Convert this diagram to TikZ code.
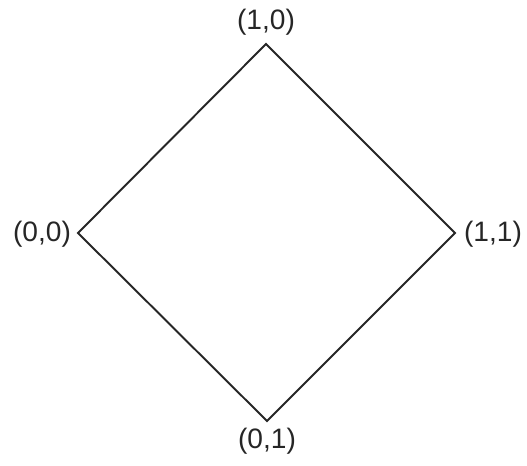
\documentclass[tikz,border=0pt]{standalone}
\usepackage{fontspec}
\setmainfont{Liberation Sans}
\usepackage{tikz}
\usetikzlibrary{positioning}
\tikzstyle{corner} = [inner sep=0pt, font=\fontsize{16}{19}\selectfont, text=black!85]
\tikzstyle{edge}   = [line width=1.1pt, line join=miter, black!85]

\begin{document}
\begin{tikzpicture}[x=0.02cm, y=-0.02cm]
  \useasboundingbox (0,0) rectangle (527,466);
  \coordinate (top) at (266,44);
  \coordinate (lft) at (78,233);
  \coordinate (rgt) at (455,233);
  \coordinate (bot) at (267,421);

  \node[corner] (ltop) at (266,22) {(1,0)};
  \node[corner] (llft) at (42,234) {(0,0)};
  \node[corner] (lrgt) at (493,234) {(1,1)};
  \node[corner] (lbot) at (267,441) {(0,1)};

  \draw[edge] (top) -- (rgt) -- (bot) -- (lft) -- cycle;
\end{tikzpicture}
\end{document}
